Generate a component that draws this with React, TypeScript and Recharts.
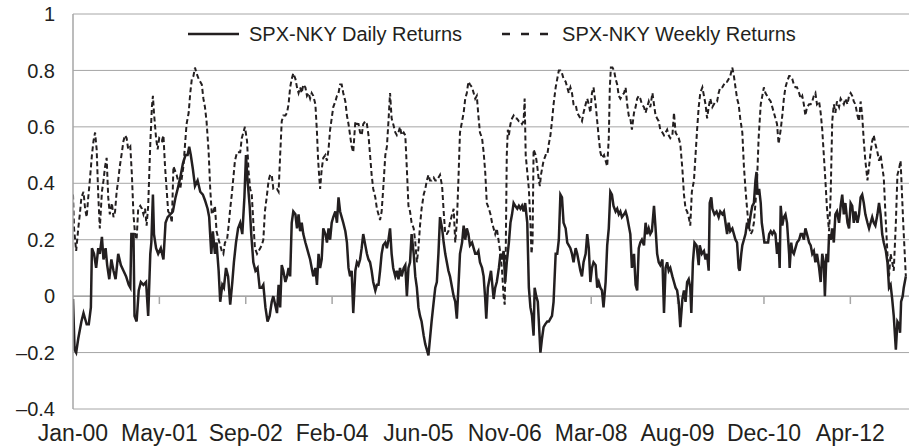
import { LineChart, Line, XAxis, YAxis, CartesianGrid, Legend, ReferenceLine } from "recharts"

// time is in months since Jan-00, values are correlations
const dailyPoints: [number, number][] = [
  [0.0, -0.01], [0.3, -0.19], [0.6, -0.2], [1.0, -0.15], [1.3, -0.12], [1.6, -0.09], [2.0, -0.06], [2.3, -0.08],
  [2.6, -0.1], [3.0, -0.1], [3.4, -0.04], [3.6, 0.17], [4.0, 0.15], [4.4, 0.1], [4.8, 0.17], [5.1, 0.15],
  [5.5, 0.21], [5.8, 0.13], [6.2, 0.17], [6.5, 0.11], [6.9, 0.06], [7.3, 0.13], [7.7, 0.09], [8.1, 0.06],
  [8.6, 0.15], [9.1, 0.11], [9.6, 0.09], [10.1, 0.07], [10.6, 0.04], [10.9, 0.03], [11.1, 0.22], [11.5, 0.22],
  [11.7, -0.07], [12.1, -0.09], [12.5, 0.02], [12.9, 0.05], [13.4, 0.04], [13.9, 0.05], [14.3, -0.07], [14.7, 0.15],
  [14.9, 0.19], [15.2, 0.36], [15.4, 0.22], [15.8, 0.17], [16.2, 0.15], [16.7, 0.17], [17.2, 0.13], [17.6, 0.26],
  [18.0, 0.28], [18.5, 0.29], [19.0, 0.3], [19.5, 0.35], [19.9, 0.38], [20.4, 0.42], [20.9, 0.47], [21.4, 0.5],
  [21.8, 0.5], [22.1, 0.53], [22.4, 0.5], [22.8, 0.45], [23.2, 0.39], [23.7, 0.41], [24.2, 0.37], [24.7, 0.36],
  [25.1, 0.34], [25.6, 0.31], [25.9, 0.28], [26.3, 0.15], [26.6, 0.23], [27.0, 0.15], [27.3, 0.19], [27.7, 0.09],
  [28.0, -0.02], [28.4, 0.04], [28.7, 0.03], [29.1, 0.1], [29.5, 0.07], [29.9, -0.03], [30.3, 0.05], [30.6, 0.12],
  [31.0, 0.19], [31.4, 0.24], [31.8, 0.26], [32.2, 0.22], [32.6, 0.35], [32.9, 0.5], [33.2, 0.41], [33.6, 0.32],
  [33.9, 0.22], [34.3, 0.12], [34.7, 0.09], [35.1, 0.1], [35.5, 0.03], [35.9, 0.03], [36.2, 0.04], [36.6, -0.04],
  [37.0, -0.09], [37.4, -0.07], [37.8, -0.02], [38.1, 0.0], [38.8, -0.06], [39.1, 0.04], [39.4, -0.04], [39.7, 0.11],
  [40.0, 0.09], [40.4, 0.05], [40.7, 0.07], [41.0, 0.1], [41.3, 0.07], [41.6, 0.26], [41.9, 0.3], [42.3, 0.29],
  [42.6, 0.24], [42.9, 0.29], [43.2, 0.23], [43.5, 0.26], [43.8, 0.22], [44.2, 0.19], [44.5, 0.17], [44.8, 0.15],
  [45.1, 0.13], [45.4, 0.1], [45.7, 0.07], [46.1, 0.1], [46.4, 0.04], [46.7, 0.15], [47.0, 0.1], [47.3, 0.13],
  [47.6, 0.24], [48.0, 0.22], [48.3, 0.19], [48.6, 0.24], [48.9, 0.2], [49.2, 0.26], [49.5, 0.28], [49.9, 0.3],
  [50.2, 0.26], [50.5, 0.35], [50.8, 0.3], [51.1, 0.28], [51.4, 0.26], [51.8, 0.23], [52.1, 0.19], [52.4, 0.1],
  [52.7, 0.07], [53.0, 0.09], [53.3, -0.06], [53.7, 0.09], [54.0, 0.12], [54.3, 0.11], [54.6, 0.13], [54.9, 0.17],
  [55.2, 0.22], [55.6, 0.18], [55.9, 0.15], [56.2, 0.13], [56.5, 0.12], [56.8, 0.09], [57.1, 0.05], [57.5, 0.02],
  [57.8, 0.04], [58.1, 0.04], [58.4, 0.09], [58.7, 0.15], [59.0, 0.18], [59.4, 0.19], [59.7, 0.17], [60.0, 0.2],
  [60.3, 0.24], [60.6, 0.15], [60.9, 0.1], [61.3, 0.07], [61.6, 0.09], [61.9, 0.06], [62.2, 0.1], [62.5, 0.07],
  [62.9, 0.1], [63.2, 0.11], [63.5, 0.0], [63.8, 0.1], [64.1, 0.12], [64.4, 0.22], [64.8, 0.15], [65.1, 0.07],
  [65.4, 0.03], [65.7, -0.04], [66.0, -0.07], [66.3, -0.09], [66.7, -0.14], [67.0, -0.17], [67.3, -0.19], [67.6, -0.21],
  [67.9, -0.15], [68.2, -0.09], [68.6, -0.02], [68.9, 0.03], [69.2, 0.05], [69.5, 0.15], [69.8, 0.28], [70.2, 0.24],
  [70.5, 0.19], [70.8, 0.15], [71.1, 0.12], [71.4, 0.09], [71.7, 0.07], [72.1, 0.03], [72.4, 0.0], [72.7, -0.02],
  [73.0, -0.08], [73.3, 0.03], [73.6, 0.15], [74.0, 0.19], [74.3, 0.25], [74.6, 0.2], [74.9, 0.24], [75.2, 0.22],
  [75.5, 0.18], [75.9, 0.19], [76.2, 0.17], [76.5, 0.15], [76.8, 0.15], [77.1, 0.16], [77.4, 0.12], [77.8, 0.1],
  [78.1, 0.07], [78.4, -0.01], [78.6, -0.08], [78.9, 0.03], [79.2, 0.06], [79.5, 0.09], [79.8, 0.03], [80.0, -0.01],
  [80.3, 0.03], [80.6, 0.05], [81.0, 0.1], [81.3, 0.15], [81.6, 0.13], [81.9, 0.16], [82.2, 0.05], [82.5, 0.12],
  [82.9, 0.19], [83.2, 0.26], [83.5, 0.29], [83.8, 0.33], [84.1, 0.32], [84.5, 0.31], [84.8, 0.32], [85.1, 0.31],
  [85.4, 0.32], [85.7, 0.3], [86.0, 0.33], [86.4, 0.26], [86.7, 0.03], [87.0, -0.04], [87.3, -0.07], [87.6, -0.14],
  [87.8, 0.03], [88.1, 0.0], [88.4, -0.02], [88.6, -0.09], [88.9, -0.2], [89.2, -0.15], [89.5, -0.11], [89.8, -0.1],
  [90.2, -0.09], [90.5, -0.09], [90.8, -0.08], [91.1, -0.07], [91.4, -0.02], [91.8, 0.15], [92.1, 0.15], [92.4, 0.2],
  [92.7, 0.36], [93.0, 0.35], [93.3, 0.26], [93.7, 0.24], [94.0, 0.19], [94.3, 0.18], [94.6, 0.17], [94.9, 0.15],
  [95.2, 0.12], [95.6, 0.17], [95.9, 0.15], [96.2, 0.12], [96.5, 0.09], [96.8, 0.07], [97.1, 0.12], [97.5, 0.15],
  [97.8, 0.22], [98.1, 0.17], [98.4, 0.05], [98.7, 0.1], [99.0, 0.12], [99.4, 0.11], [99.7, 0.03], [100.0, 0.05],
  [100.3, 0.03], [100.6, 0.02], [100.9, -0.04], [101.3, 0.05], [101.6, 0.18], [101.9, 0.24], [102.2, 0.37], [102.5, 0.36],
  [102.8, 0.32], [103.2, 0.3], [103.5, 0.31], [103.8, 0.29], [104.1, 0.3], [104.4, 0.28], [104.8, 0.29], [105.1, 0.3],
  [105.4, 0.28], [105.7, 0.25], [106.0, 0.22], [106.3, 0.1], [106.7, 0.15], [107.0, 0.04], [107.3, 0.02], [107.6, 0.17],
  [107.9, 0.19], [108.2, 0.2], [108.6, 0.18], [108.9, 0.26], [109.2, 0.22], [109.5, 0.24], [109.8, 0.22], [110.1, 0.23],
  [110.5, 0.32], [110.8, 0.24], [111.1, 0.15], [111.4, 0.12], [111.7, 0.11], [112.1, 0.13], [112.4, -0.06], [112.7, 0.1],
  [113.0, 0.12], [113.3, 0.09], [113.6, 0.1], [114.0, 0.07], [114.3, 0.05], [114.6, 0.03], [114.9, 0.02], [115.2, -0.02],
  [115.5, -0.11], [115.9, -0.01], [116.2, 0.02], [116.5, -0.02], [116.8, 0.05], [117.1, 0.06], [117.4, 0.03], [117.6, -0.06],
  [117.9, 0.12], [118.2, 0.19], [118.6, 0.18], [119.0, 0.11], [119.2, 0.18], [119.6, 0.15], [120.0, 0.16], [120.3, 0.13],
  [120.6, 0.15], [120.9, 0.09], [121.1, 0.33], [121.4, 0.35], [121.6, 0.31], [122.0, 0.29], [122.4, 0.3], [122.8, 0.28],
  [123.1, 0.3], [123.5, 0.29], [123.8, 0.3], [124.1, 0.26], [124.4, 0.22], [124.7, 0.26], [125.0, 0.23], [125.4, 0.24],
  [125.7, 0.22], [126.0, 0.2], [126.3, 0.19], [126.6, 0.1], [126.8, 0.09], [127.1, 0.15], [127.3, 0.18], [127.6, 0.2],
  [127.9, 0.22], [128.2, 0.26], [128.5, 0.24], [128.9, 0.29], [129.2, 0.32], [129.5, 0.33], [129.8, 0.41], [130.0, 0.44],
  [130.2, 0.36], [130.5, 0.38], [130.8, 0.33], [131.0, 0.26], [131.3, 0.22], [131.5, 0.19], [131.9, 0.19], [132.2, 0.19],
  [132.4, 0.22], [132.7, 0.23], [133.0, 0.22], [133.3, 0.23], [133.6, 0.22], [133.9, 0.15], [134.2, 0.19], [134.4, 0.1],
  [134.6, 0.32], [134.9, 0.25], [135.2, 0.28], [135.5, 0.29], [135.8, 0.26], [136.2, 0.15], [136.3, 0.1], [136.6, 0.19],
  [136.8, 0.16], [137.1, 0.15], [137.4, 0.17], [137.7, 0.19], [138.1, 0.2], [138.4, 0.22], [138.7, 0.22], [139.0, 0.2],
  [139.3, 0.24], [139.6, 0.22], [140.0, 0.19], [140.3, 0.18], [140.6, 0.15], [140.9, 0.16], [141.2, 0.12], [141.5, 0.15],
  [141.9, 0.1], [142.2, 0.05], [142.5, 0.15], [142.8, 0.12], [143.0, 0.0], [143.3, 0.15], [143.6, 0.12], [143.8, 0.22],
  [144.1, 0.2], [144.4, 0.24], [144.7, 0.19], [145.0, 0.29], [145.3, 0.3], [145.7, 0.26], [146.0, 0.32], [146.3, 0.36],
  [146.6, 0.29], [146.9, 0.33], [147.3, 0.26], [147.6, 0.24], [147.9, 0.33], [148.2, 0.32], [148.5, 0.26], [148.8, 0.3],
  [149.2, 0.26], [149.5, 0.29], [149.8, 0.35], [150.1, 0.36], [150.4, 0.33], [150.7, 0.29], [151.1, 0.26], [151.4, 0.24],
  [151.7, 0.26], [152.0, 0.28], [152.3, 0.26], [152.6, 0.25], [153.0, 0.29], [153.3, 0.33], [153.6, 0.29], [153.9, 0.22],
  [154.2, 0.19], [154.6, 0.16], [154.9, 0.12], [155.2, 0.03], [155.5, 0.04], [155.8, -0.01], [156.1, -0.07], [156.5, -0.19],
  [156.8, -0.09], [157.1, -0.1], [157.3, -0.13], [157.5, -0.02], [157.8, 0.0], [158.0, 0.03], [158.4, 0.07],
]

const weeklyPoints: [number, number][] = [
  [0.0, 0.36], [0.2, 0.24], [0.6, 0.16], [1.0, 0.24], [1.3, 0.29], [1.6, 0.35], [2.0, 0.37], [2.3, 0.31],
  [2.6, 0.28], [2.9, 0.35], [3.2, 0.41], [3.6, 0.5], [3.9, 0.55], [4.2, 0.58], [4.5, 0.52], [4.8, 0.36],
  [5.1, 0.24], [5.5, 0.37], [5.8, 0.41], [6.1, 0.46], [6.4, 0.49], [6.7, 0.35], [7.0, 0.29], [7.4, 0.33],
  [7.7, 0.28], [8.0, 0.3], [8.3, 0.37], [8.6, 0.41], [8.9, 0.46], [9.3, 0.51], [9.6, 0.55], [9.9, 0.57],
  [10.2, 0.56], [10.5, 0.52], [10.9, 0.53], [11.2, 0.43], [11.5, 0.29], [11.8, 0.22], [12.1, 0.2], [12.4, 0.31],
  [12.8, 0.32], [13.1, 0.31], [13.4, 0.29], [13.7, 0.31], [14.0, 0.25], [14.3, 0.32], [14.7, 0.54], [15.0, 0.67],
  [15.2, 0.71], [15.4, 0.65], [15.8, 0.56], [16.1, 0.52], [16.4, 0.56], [16.9, 0.55], [17.2, 0.57], [17.5, 0.46],
  [17.8, 0.38], [18.1, 0.3], [18.5, 0.29], [18.8, 0.26], [19.1, 0.46], [19.7, 0.43], [20.4, 0.38], [21.0, 0.46],
  [21.6, 0.61], [22.0, 0.65], [22.3, 0.72], [22.6, 0.77], [22.9, 0.78], [23.2, 0.81], [23.5, 0.79], [23.9, 0.77],
  [24.2, 0.76], [24.5, 0.75], [24.8, 0.7], [25.1, 0.67], [25.4, 0.62], [25.8, 0.51], [26.1, 0.38], [26.4, 0.29],
  [26.7, 0.3], [27.0, 0.32], [27.3, 0.23], [27.7, 0.2], [28.0, 0.18], [28.3, 0.16], [28.6, 0.15], [28.9, 0.19],
  [29.3, 0.2], [29.6, 0.25], [29.9, 0.31], [30.2, 0.36], [30.5, 0.42], [30.8, 0.48], [31.2, 0.51], [31.5, 0.51],
  [31.8, 0.51], [32.1, 0.56], [32.4, 0.58], [32.7, 0.6], [33.1, 0.55], [33.4, 0.44], [33.7, 0.38], [34.0, 0.36],
  [34.3, 0.26], [34.6, 0.17], [35.0, 0.15], [35.3, 0.16], [35.6, 0.17], [35.9, 0.18], [36.2, 0.2], [36.5, 0.3],
  [36.9, 0.36], [37.2, 0.41], [37.5, 0.43], [37.8, 0.43], [38.1, 0.38], [38.8, 0.38], [39.1, 0.37], [39.4, 0.5],
  [39.7, 0.62], [40.0, 0.64], [40.4, 0.64], [40.7, 0.65], [41.0, 0.68], [41.3, 0.74], [41.6, 0.77], [41.9, 0.79],
  [42.3, 0.77], [42.6, 0.74], [42.9, 0.72], [43.2, 0.74], [43.5, 0.72], [43.8, 0.75], [44.2, 0.74], [44.5, 0.71],
  [44.8, 0.72], [45.1, 0.7], [45.4, 0.72], [45.7, 0.71], [46.1, 0.68], [46.4, 0.58], [46.6, 0.49], [46.8, 0.43],
  [47.0, 0.38], [47.3, 0.45], [47.6, 0.49], [48.0, 0.5], [48.3, 0.48], [48.6, 0.52], [48.9, 0.59], [49.2, 0.63],
  [49.5, 0.67], [49.9, 0.69], [50.2, 0.71], [50.5, 0.72], [50.8, 0.75], [51.1, 0.75], [51.4, 0.72], [51.8, 0.69],
  [52.1, 0.64], [52.4, 0.61], [52.7, 0.57], [53.0, 0.53], [53.3, 0.51], [53.7, 0.62], [54.0, 0.61], [54.3, 0.61],
  [54.6, 0.58], [54.9, 0.57], [55.2, 0.61], [55.6, 0.62], [55.9, 0.61], [56.2, 0.57], [56.5, 0.5], [56.8, 0.43],
  [57.1, 0.38], [57.5, 0.35], [57.8, 0.31], [58.1, 0.29], [58.4, 0.27], [58.7, 0.3], [59.0, 0.38], [59.4, 0.5],
  [59.7, 0.53], [60.0, 0.62], [60.3, 0.72], [60.6, 0.63], [60.9, 0.61], [61.3, 0.58], [61.6, 0.57], [61.9, 0.58],
  [62.2, 0.6], [62.5, 0.57], [62.9, 0.58], [63.2, 0.57], [63.5, 0.45], [63.8, 0.32], [64.1, 0.3], [64.4, 0.26],
  [64.8, 0.24], [65.1, 0.19], [65.4, 0.12], [65.7, 0.17], [66.0, 0.25], [66.3, 0.31], [66.7, 0.36], [67.0, 0.38],
  [67.3, 0.41], [67.6, 0.43], [67.9, 0.41], [68.2, 0.41], [68.6, 0.42], [68.9, 0.41], [69.2, 0.41], [69.5, 0.42],
  [69.8, 0.43], [70.2, 0.39], [70.5, 0.3], [70.8, 0.22], [71.1, 0.22], [71.4, 0.23], [71.7, 0.26], [72.1, 0.29],
  [72.4, 0.31], [72.7, 0.19], [73.0, 0.26], [73.3, 0.41], [73.6, 0.58], [74.0, 0.62], [74.3, 0.65], [74.6, 0.7],
  [74.9, 0.72], [75.2, 0.76], [75.5, 0.75], [75.9, 0.74], [76.2, 0.72], [76.5, 0.7], [76.8, 0.71], [77.1, 0.64],
  [77.4, 0.58], [77.8, 0.56], [78.1, 0.51], [78.4, 0.44], [78.7, 0.33], [79.1, 0.31], [79.4, 0.29], [79.7, 0.26],
  [80.0, 0.24], [80.3, 0.22], [80.6, 0.24], [81.0, 0.19], [81.3, 0.15], [81.6, 0.09], [81.9, 0.0], [82.1, -0.03],
  [82.3, 0.15], [82.5, 0.5], [82.7, 0.59], [82.9, 0.57], [83.2, 0.61], [83.5, 0.63], [83.8, 0.64], [84.1, 0.63],
  [84.4, 0.63], [84.8, 0.62], [85.1, 0.62], [85.4, 0.61], [85.7, 0.62], [85.9, 0.7], [86.1, 0.5], [86.4, 0.44],
  [86.7, 0.38], [87.0, 0.26], [87.2, 0.15], [87.4, 0.19], [87.6, 0.52], [88.0, 0.5], [88.3, 0.46], [88.6, 0.41],
  [88.8, 0.39], [89.0, 0.43], [89.3, 0.46], [89.5, 0.48], [89.9, 0.5], [90.2, 0.5], [90.5, 0.54], [90.8, 0.57],
  [91.1, 0.62], [91.4, 0.68], [91.8, 0.74], [92.1, 0.77], [92.4, 0.8], [92.7, 0.8], [93.0, 0.79], [93.3, 0.77],
  [93.7, 0.76], [94.0, 0.74], [94.3, 0.72], [94.6, 0.74], [94.9, 0.72], [95.2, 0.68], [95.6, 0.68], [95.9, 0.65],
  [96.2, 0.64], [96.5, 0.63], [96.8, 0.62], [97.1, 0.65], [97.5, 0.68], [97.8, 0.7], [98.1, 0.68], [98.4, 0.65],
  [98.7, 0.72], [99.0, 0.74], [99.4, 0.68], [99.7, 0.62], [100.0, 0.56], [100.3, 0.51], [100.6, 0.49], [101.0, 0.5],
  [101.3, 0.48], [101.6, 0.46], [101.9, 0.56], [102.1, 0.74], [102.3, 0.81], [102.6, 0.81], [102.9, 0.8], [103.2, 0.77],
  [103.5, 0.75], [103.8, 0.71], [104.1, 0.7], [104.4, 0.71], [104.8, 0.72], [105.1, 0.74], [105.4, 0.68], [105.7, 0.64],
  [106.0, 0.63], [106.3, 0.59], [106.7, 0.65], [107.0, 0.67], [107.3, 0.7], [107.6, 0.71], [107.9, 0.7], [108.2, 0.68],
  [108.6, 0.67], [108.9, 0.65], [109.2, 0.67], [109.5, 0.69], [109.8, 0.67], [110.2, 0.72], [110.5, 0.68], [110.8, 0.64],
  [111.1, 0.63], [111.4, 0.62], [111.7, 0.59], [112.1, 0.58], [112.4, 0.57], [112.7, 0.58], [113.0, 0.59], [113.3, 0.57],
  [113.6, 0.56], [114.0, 0.57], [114.3, 0.65], [114.6, 0.58], [114.9, 0.57], [115.2, 0.56], [115.5, 0.54], [115.9, 0.45],
  [116.2, 0.36], [116.5, 0.31], [116.8, 0.3], [117.1, 0.28], [117.4, 0.25], [117.7, 0.37], [118.1, 0.41], [118.4, 0.5],
  [118.7, 0.59], [119.0, 0.67], [119.3, 0.72], [119.7, 0.74], [120.0, 0.71], [120.3, 0.68], [120.6, 0.63], [120.9, 0.67],
  [121.2, 0.7], [121.6, 0.67], [121.9, 0.68], [122.2, 0.69], [122.5, 0.69], [122.8, 0.72], [123.1, 0.74], [123.5, 0.74],
  [123.8, 0.75], [124.1, 0.76], [124.4, 0.76], [124.7, 0.77], [125.0, 0.78], [125.4, 0.81], [125.7, 0.78], [126.0, 0.74],
  [126.3, 0.7], [126.6, 0.68], [126.9, 0.63], [127.3, 0.58], [127.6, 0.46], [127.9, 0.38], [128.2, 0.31], [128.5, 0.25],
  [128.9, 0.22], [129.2, 0.23], [129.5, 0.26], [129.8, 0.33], [130.1, 0.41], [130.4, 0.56], [130.8, 0.68], [131.1, 0.71],
  [131.4, 0.74], [131.7, 0.72], [132.0, 0.71], [132.3, 0.7], [132.7, 0.69], [133.0, 0.67], [133.3, 0.65], [133.6, 0.63],
  [133.9, 0.61], [134.2, 0.54], [134.6, 0.59], [134.9, 0.64], [135.2, 0.7], [135.5, 0.74], [135.8, 0.76], [136.2, 0.78],
  [136.5, 0.78], [136.8, 0.77], [137.1, 0.75], [137.4, 0.74], [137.7, 0.74], [138.1, 0.72], [138.4, 0.7], [138.7, 0.71],
  [139.0, 0.68], [139.3, 0.64], [139.6, 0.67], [140.0, 0.68], [140.3, 0.68], [140.6, 0.69], [140.9, 0.71], [141.2, 0.72],
  [141.5, 0.68], [141.9, 0.69], [142.2, 0.65], [142.5, 0.59], [142.8, 0.5], [143.1, 0.41], [143.4, 0.31], [143.8, 0.23],
  [144.1, 0.36], [144.4, 0.62], [144.7, 0.68], [145.0, 0.65], [145.3, 0.69], [145.7, 0.67], [146.0, 0.7], [146.3, 0.69],
  [146.6, 0.68], [146.9, 0.7], [147.3, 0.68], [147.6, 0.71], [147.9, 0.72], [148.2, 0.71], [148.5, 0.69], [148.8, 0.68],
  [149.2, 0.64], [149.5, 0.62], [149.8, 0.69], [150.1, 0.64], [150.4, 0.55], [150.7, 0.48], [151.1, 0.41], [151.4, 0.46],
  [151.7, 0.51], [152.0, 0.55], [152.3, 0.57], [152.6, 0.54], [153.0, 0.51], [153.3, 0.48], [153.6, 0.5], [153.9, 0.46],
  [154.2, 0.42], [154.6, 0.26], [154.9, 0.15], [155.2, 0.07], [155.5, 0.15], [155.8, 0.12], [156.1, 0.09], [156.5, 0.26],
  [156.8, 0.43], [157.1, 0.45], [157.4, 0.48], [157.9, 0.26], [158.4, 0.07],
]

const xLabels = ["Jan-00", "May-01", "Sep-02", "Feb-04", "Jun-05", "Nov-06", "Mar-08", "Aug-09", "Dec-10", "Apr-12"]
const yTicks = [-0.4, -0.2, 0, 0.2, 0.4, 0.6, 0.8, 1]

// Excel date axis: one label every 500 days
const TICK_STEP = 500 / (365.25 / 12)
const xTicks = xLabels.map((_, i) => i * TICK_STEP)

const dailyData = dailyPoints.map(([t, v]) => ({ t, daily: v }))
const weeklyData = weeklyPoints.map(([t, v]) => ({ t, weekly: v }))

const INK = "#231f20"
const GRID = "#a6a6a6"
const FONT = "'Liberation Sans', Arial, Helvetica, sans-serif"

const fmtY = (v: number) => (v < 0 ? "\u2013" + Math.abs(v) : String(v))

function LegendBox() {
  return (
    <div style={{ display: "flex", alignItems: "center", paddingLeft: 188, height: 24, fontFamily: FONT, fontSize: 20, color: INK }}>
      <svg width={51} height={24}>
        <line x1={0} y1={12} x2={51} y2={12} stroke={INK} strokeWidth={2.5} />
      </svg>
      <span style={{ marginLeft: 10, whiteSpace: "nowrap" }}>SPX-NKY Daily Returns</span>
      <svg width={46} height={24} style={{ marginLeft: 40 }}>
        <line x1={0} y1={12} x2={46} y2={12} stroke={INK} strokeWidth={2.5} strokeDasharray="8 11" />
      </svg>
      <span style={{ marginLeft: 14, whiteSpace: "nowrap" }}>SPX-NKY Weekly Returns</span>
    </div>
  )
}

export default function App() {
  return (
    <div style={{ position: "absolute", left: 0, top: 0, width: 909, height: 448, background: "#fff", fontFamily: FONT }}>
      <LineChart width={909} height={448} margin={{ top: 14, right: 0, bottom: 9, left: 0 }}>
        <CartesianGrid vertical={false} stroke={GRID} strokeWidth={1} />
        <XAxis
          type="number"
          dataKey="t"
          domain={[0, 159]}
          ticks={xTicks}
          height={30}
          allowDataOverflow
          axisLine={false}
          tickLine={false}
          tickSize={0}
          tickMargin={16}
          interval={0}
          tickFormatter={(v: number) => xLabels[Math.round(v / TICK_STEP)] ?? ""}
          tick={{ fill: INK, fontSize: 23, fontFamily: FONT }}
        />
        <YAxis
          type="number"
          domain={[-0.4, 1]}
          ticks={yTicks}
          width={73}
          axisLine={{ stroke: GRID, strokeWidth: 1.5 }}
          tickLine={false}
          tickSize={0}
          tickMargin={18}
          tickFormatter={fmtY}
          tick={{ fill: INK, fontSize: 20, fontFamily: FONT }}
        />
        <ReferenceLine y={0} stroke={GRID} strokeWidth={1.5} />
        {xTicks.slice(1).map((t) => (
          <ReferenceLine
            key={t}
            segment={[
              { x: t, y: 0 },
              { x: t, y: -0.028 },
            ]}
            stroke={GRID}
            strokeWidth={1.5}
          />
        ))}
        <Legend
          layout="horizontal"
          verticalAlign="middle"
          align="center"
          content={() => <LegendBox />}
          wrapperStyle={{ position: "absolute", top: 22, left: 0, width: 909, height: 24 }}
        />
        <Line
          data={dailyData}
          dataKey="daily"
          name="SPX-NKY Daily Returns"
          type="linear"
          stroke={INK}
          strokeWidth={2.5}
          dot={false}
          isAnimationActive={false}
        />
        <Line
          data={weeklyData}
          dataKey="weekly"
          name="SPX-NKY Weekly Returns"
          type="linear"
          stroke={INK}
          strokeWidth={2}
          strokeDasharray="5 3"
          dot={false}
          isAnimationActive={false}
        />
      </LineChart>
    </div>
  )
}
